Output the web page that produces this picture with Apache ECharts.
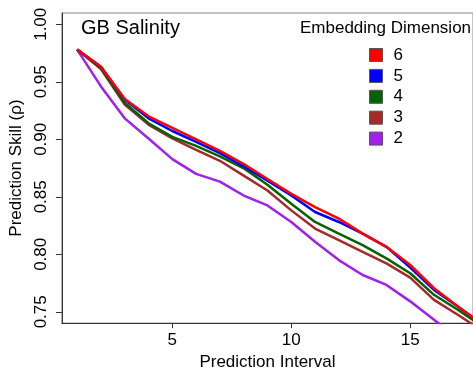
<!DOCTYPE html>
<html>
<head>
<meta charset="utf-8">
<script src="https://cdn.jsdelivr.net/npm/echarts@6/dist/echarts.min.js"></script>
<style>html,body{margin:0;padding:0;background:#fff;}#c{width:473px;height:376px;}</style>
</head>
<body>
<div id="c"></div>
<script>
const intervals = [1,2,3,4,5,6,7,8,9,10,11,12,13,14,15,16,17,18];
const dim6 = [0.978,0.963,0.935,0.920,0.910,0.900,0.890,0.8785,0.8655,0.8526,0.8411,0.831,0.818,0.8065,0.7907,0.7705,0.7547,0.7395];
const dim5 = [0.978,0.963,0.9346,0.9182,0.9072,0.8978,0.888,0.8765,0.864,0.8511,0.8368,0.8281,0.818,0.8065,0.7884,0.7691,0.7547,0.7395];
const dim4 = [0.978,0.962,0.9318,0.9139,0.9021,0.8943,0.8851,0.8748,0.8604,0.844,0.8281,0.818,0.808,0.7965,0.7835,0.7648,0.7518,0.738];
const dim3 = [0.978,0.961,0.9303,0.9128,0.9007,0.8908,0.8813,0.8684,0.8555,0.8382,0.8224,0.8123,0.8022,0.7921,0.7798,0.7604,0.7475,0.734];
const dim2 = [0.978,0.946,0.9182,0.9007,0.8828,0.8699,0.8632,0.8511,0.8425,0.8281,0.8109,0.795,0.782,0.7734,0.7591,0.7432,0.727,0.712];
const seriesNames = ['6','5','4','3','2'];
const seriesColors = ['#FF0000','#0000FF','#006400','#A52A2A','#A020F0'];
const xTicks = [5,10,15];
const yTicks = [0.75,0.80,0.85,0.90,0.95,1.00];

const allData = [dim6, dim5, dim4, dim3, dim2];
const FONT = 'Liberation Sans, Arial, Helvetica, sans-serif';
const chart = echarts.init(document.getElementById('c'), null, {renderer:'canvas'});
chart.setOption({
  animation: false,
  backgroundColor: '#fff',
  textStyle: {fontFamily: FONT, color: '#000'},
  title: [
    {text: 'GB Salinity', left: 81, top: 18, padding: 0,
     textStyle: {fontFamily: FONT, fontSize: 20, fontWeight: 'normal', color: '#000', lineHeight: 20}},
    {text: 'Embedding Dimension', left: 300, top: 19.5, padding: 0,
     textStyle: {fontFamily: FONT, fontSize: 17, fontWeight: 'normal', color: '#000', lineHeight: 17}}
  ],
  legend: {
    orient: 'vertical', left: 369, top: 46.5, padding: 0,
    itemWidth: 13, itemHeight: 13, itemGap: 3.9,
    icon: 'rect',
    data: seriesNames,
    textStyle: {fontFamily: FONT, fontSize: 17, color: '#000', padding: [0,0,0,6], lineHeight: 13},
    itemStyle: {borderColor: '#555', borderWidth: 1}
  },
  grid: {left: 58, right: 0, top: 13, bottom: 51, show: true, borderColor: '#888', borderWidth: 1, backgroundColor: 'transparent'},
  xAxis: {
    type: 'value', min: 0.36, max: 17.64,
    name: 'Prediction Interval', nameLocation: 'middle', nameGap: 26,
    nameTextStyle: {fontFamily: FONT, fontSize: 17, color: '#000'},
    axisLine: {show: true, lineStyle: {color: '#333', width: 1}},
    axisTick: {show: true, customValues: xTicks, length: 5, lineStyle: {color: '#333'}},
    axisLabel: {customValues: xTicks, margin: 9, fontFamily: FONT, fontSize: 17, color: '#000'},
    splitLine: {show: false}
  },
  yAxis: {
    type: 'value', min: 0.7402, max: 1.0098,
    name: 'Prediction Skill (\u03C1)', nameLocation: 'middle', nameGap: 28,
    nameTextStyle: {fontFamily: FONT, fontSize: 17, color: '#000'},
    axisLine: {show: true, lineStyle: {color: '#333', width: 1}},
    axisTick: {show: true, customValues: yTicks, length: 6, lineStyle: {color: '#333'}},
    axisLabel: {customValues: yTicks, rotate: 90, margin: 12, fontFamily: FONT, fontSize: 17, color: '#000',
      formatter: v => v.toFixed(2)},
    splitLine: {show: false}
  },
  series: allData.map((d, i) => ({
    name: seriesNames[i], type: 'line', symbol: 'none', clip: true,
    data: intervals.map((x, j) => [x, d[j]]),
    lineStyle: {color: seriesColors[i], width: 2.5},
    itemStyle: {color: seriesColors[i]},
    z: 10 - i
  }))
});
</script>
</body>
</html>
